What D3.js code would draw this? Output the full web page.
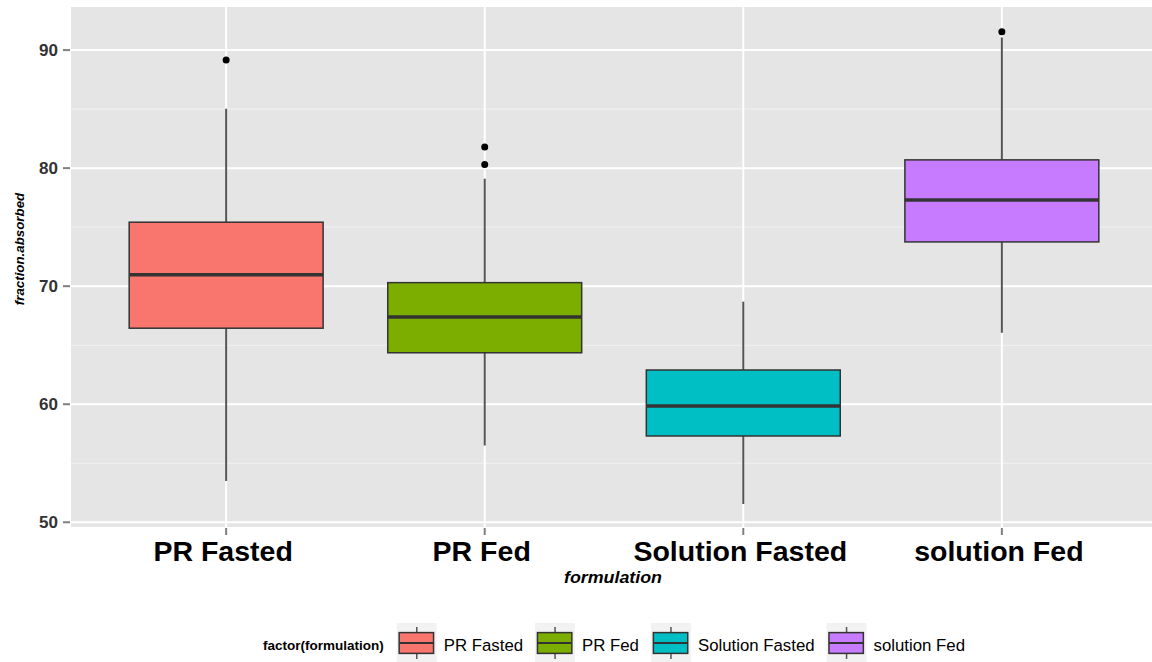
<!DOCTYPE html>
<html>
<head>
<meta charset="utf-8">
<script src="https://cdn.jsdelivr.net/npm/d3@7"></script>
<style>
  html, body { margin: 0; padding: 0; background: #fff; }
  svg { display: block; font-family: "Liberation Sans", Arial, sans-serif; }
</style>
</head>
<body>
<svg id="chart" width="1152" height="662"></svg>
<script>
// ---- data ----
const categories = ["PR Fasted", "PR Fed", "Solution Fasted", "solution Fed"];
const whiskerLow  = [53.5, 56.5, 51.55, 66.05];
const q1          = [66.44, 64.36, 57.31, 73.75];
const median      = [70.96, 67.4, 59.86, 77.3];
const q3          = [75.42, 70.3, 62.9, 80.7];
const whiskerHigh = [85.03, 79.1, 68.69, 91.07];
const outliers    = [[89.17], [81.8, 80.3], [], [91.56]];
const colors      = ["#F8766D", "#7CAE00", "#00BFC4", "#C77CFF"];
const yTicks      = [50, 60, 70, 80, 90];
const yMinor      = [55, 65, 75, 85];
const xTitle = "formulation";
const yTitle = "fraction.absorbed";
const legendTitle = "factor(formulation)";

// ---- layout ----
const svg = d3.select("#chart");
const panel = { left: 71, top: 7, right: 1157, bottom: 527 };

// discrete scale with ggplot-like 0.6 expansion on both sides
const x = d3.scaleBand()
  .domain(categories)
  .range([panel.left, panel.right])
  .paddingInner(0)
  .paddingOuter(0.1);
const xc = d => x(d) + x.bandwidth() / 2;
const boxW = x.bandwidth() * 0.75;

const y = d3.scaleLinear().domain([49.6, 93.65]).range([panel.bottom, panel.top]);

// panel background
svg.append("rect")
  .attr("x", panel.left).attr("y", panel.top)
  .attr("width", panel.right - panel.left).attr("height", panel.bottom - panel.top)
  .attr("fill", "#E5E5E5");

// minor grid
svg.append("g").selectAll("line").data(yMinor).join("line")
  .attr("x1", panel.left).attr("x2", panel.right)
  .attr("y1", d => y(d)).attr("y2", d => y(d))
  .attr("stroke", "#F2F2F2").attr("stroke-width", 1);

// major grid
svg.append("g").selectAll("line").data(yTicks).join("line")
  .attr("x1", panel.left).attr("x2", panel.right)
  .attr("y1", d => y(d)).attr("y2", d => y(d))
  .attr("stroke", "#FFFFFF").attr("stroke-width", 2);
svg.append("g").selectAll("line").data(categories).join("line")
  .attr("x1", d => xc(d)).attr("x2", d => xc(d))
  .attr("y1", panel.top).attr("y2", panel.bottom)
  .attr("stroke", "#FFFFFF").attr("stroke-width", 2);

// y axis ticks + labels
const yAxis = svg.append("g");
yAxis.selectAll("line").data(yTicks).join("line")
  .attr("x1", panel.left - 8).attr("x2", panel.left - 1)
  .attr("y1", d => y(d)).attr("y2", d => y(d))
  .attr("stroke", "#7F7F7F").attr("stroke-width", 2);
yAxis.selectAll("text").data(yTicks).join("text")
  .attr("x", panel.left - 13).attr("y", d => y(d))
  .attr("dy", "0.35em")
  .attr("text-anchor", "end")
  .attr("font-size", 17).attr("font-weight", "bold")
  .attr("fill", "#333333")
  .text(d => d);

// x axis ticks + labels
const xAxis = svg.append("g");
xAxis.selectAll("line").data(categories).join("line")
  .attr("x1", d => xc(d)).attr("x2", d => xc(d))
  .attr("y1", panel.bottom + 1).attr("y2", panel.bottom + 8)
  .attr("stroke", "#7F7F7F").attr("stroke-width", 2);
xAxis.selectAll("text").data(categories).join("text")
  .attr("x", d => xc(d) - 3).attr("y", 561)
  .attr("text-anchor", "middle")
  .attr("font-size", 28.5).attr("font-weight", "bold")
  .attr("fill", "#000")
  .text(d => d);

// axis titles
svg.append("text")
  .attr("x", (panel.left + panel.right) / 2 - 1).attr("y", 583)
  .attr("text-anchor", "middle")
  .attr("font-size", 16).attr("font-weight", "bold").attr("font-style", "italic")
  .attr("fill", "#000")
  .attr("textLength", 98).attr("lengthAdjust", "spacingAndGlyphs")
  .text(xTitle);
svg.append("text")
  .attr("transform", `translate(24,${(panel.top + panel.bottom) / 2 - 18}) rotate(-90)`)
  .attr("text-anchor", "middle")
  .attr("font-size", 13.3).attr("font-weight", "bold").attr("font-style", "italic")
  .attr("fill", "#000")
  .text(yTitle);

// boxes
const boxes = svg.append("g");
categories.forEach((c, i) => {
  const g = boxes.append("g");
  const cx = xc(c);
  g.append("line").attr("x1", cx).attr("x2", cx)
    .attr("y1", y(q3[i])).attr("y2", y(whiskerHigh[i]))
    .attr("stroke", "#555").attr("stroke-width", 2);
  g.append("line").attr("x1", cx).attr("x2", cx)
    .attr("y1", y(q1[i])).attr("y2", y(whiskerLow[i]))
    .attr("stroke", "#555").attr("stroke-width", 2);
  g.append("rect")
    .attr("x", cx - boxW / 2).attr("y", y(q3[i]))
    .attr("width", boxW).attr("height", y(q1[i]) - y(q3[i]))
    .attr("fill", colors[i]).attr("stroke", "#333333").attr("stroke-width", 1.5);
  g.append("line")
    .attr("x1", cx - boxW / 2).attr("x2", cx + boxW / 2)
    .attr("y1", y(median[i])).attr("y2", y(median[i]))
    .attr("stroke", "#333333").attr("stroke-width", 3.5);
  g.selectAll("circle").data(outliers[i]).join("circle")
    .attr("cx", cx).attr("cy", d => y(d)).attr("r", 3.5)
    .attr("fill", "#000");
});

// legend
const leg = svg.append("g");
const keySize = 40;
const keyTop = 623;
const textY = keyTop + 22;
const titleEl = leg.append("text")
  .attr("y", textY).attr("dy", "0.35em")
  .attr("font-size", 13.5).attr("font-weight", "bold").attr("fill", "#000")
  .text(legendTitle);
let cursor = titleEl.node().getComputedTextLength() + 13;
categories.forEach((c, i) => {
  const g = leg.append("g").attr("transform", `translate(${cursor},0)`);
  g.append("rect").attr("x", 0).attr("y", keyTop).attr("width", keySize).attr("height", keySize)
    .attr("fill", "#F2F2F2");
  const cx = keySize / 2;
  g.append("line").attr("x1", cx).attr("x2", cx)
    .attr("y1", keyTop + keySize * 0.1).attr("y2", keyTop + keySize * 0.9)
    .attr("stroke", "#555").attr("stroke-width", 1.5);
  g.append("rect")
    .attr("x", keySize * 0.06).attr("y", keyTop + keySize * 0.24)
    .attr("width", keySize * 0.86).attr("height", keySize * 0.52)
    .attr("fill", colors[i]).attr("stroke", "#333333").attr("stroke-width", 1.5);
  g.append("line").attr("x1", keySize * 0.06).attr("x2", keySize * 0.92)
    .attr("y1", keyTop + keySize / 2).attr("y2", keyTop + keySize / 2)
    .attr("stroke", "#333333").attr("stroke-width", 2);
  const t = g.append("text")
    .attr("x", keySize + 7).attr("y", textY).attr("dy", "0.35em")
    .attr("font-size", 16.8).attr("fill", "#000")
    .text(c);
  cursor += keySize + 7 + t.node().getComputedTextLength() + 12;
});
const totalW = cursor - 12;
leg.attr("transform", `translate(${(panel.left + panel.right) / 2 - totalW / 2},0)`);
</script>
</body>
</html>
